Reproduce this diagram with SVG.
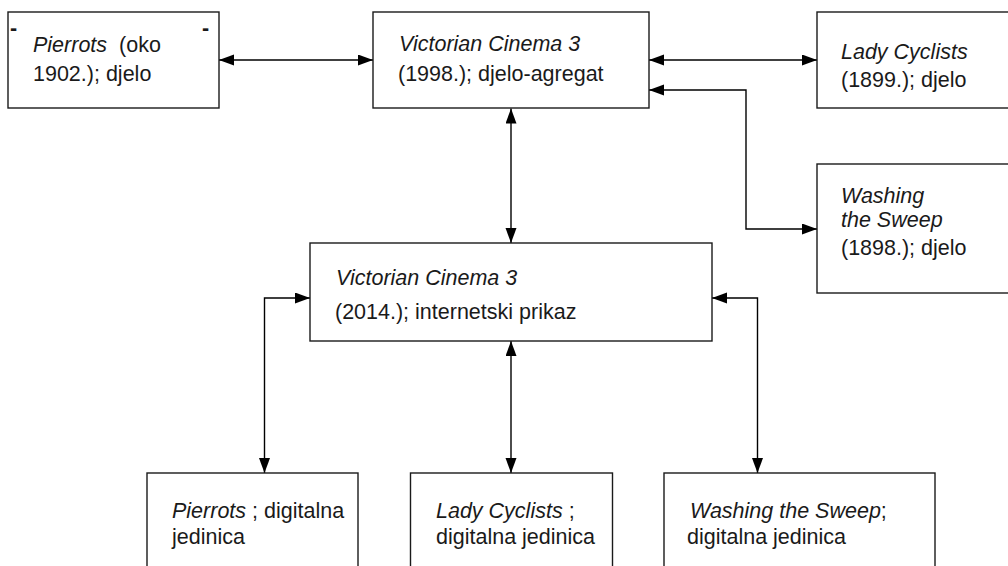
<svg xmlns="http://www.w3.org/2000/svg" width="1008" height="566" viewBox="0 0 1008 566">
<style>
.box{fill:#fff;stroke:#1a1a1a;stroke-width:1.4}
.t{font-family:"Liberation Sans",Arial,sans-serif;font-size:21.5px;fill:#1a1a1a}
.i{font-style:italic}
.c{fill:none;stroke:#000;stroke-width:1.4;marker-start:url(#ah);marker-end:url(#ah)}
</style>
<defs>
<marker id="ah" markerUnits="userSpaceOnUse" markerWidth="16" markerHeight="12" refX="15" refY="5.5" orient="auto-start-reverse">
<path d="M0,0 L15,5.5 L0,11 Z" fill="#000"/>
</marker>
</defs>
<rect width="1008" height="566" fill="#fff"/>
<g id="connectors">
<path class="c" d="M219,60 H373"/>
<path class="c" d="M649,60 H817"/>
<path class="c" d="M649,90 H746 V229 H817"/>
<path class="c" d="M511,108.5 V243"/>
<path class="c" d="M310,298 H264.5 V473"/>
<path class="c" d="M511,341 V473"/>
<path class="c" d="M712,298 H757.5 V473"/>
</g>
<g id="pierrots">
<rect class="box" x="8" y="12" width="211" height="96"/>
<text class="t" x="10" y="35" style="font-weight:bold">-</text>
<text class="t" x="202" y="35" style="font-weight:bold">-</text>
<text class="t" x="33" y="52"><tspan class="i">Pierrots</tspan>&#160; (oko</text>
<text class="t" x="33" y="81">1902.); djelo</text>
</g>
<g id="vc1998">
<rect class="box" x="373" y="12" width="276" height="96"/>
<text class="t i" x="399" y="51">Victorian Cinema 3</text>
<text class="t" x="398" y="81">(1998.); djelo-agregat</text>
</g>
<g id="ladycyclists">
<rect class="box" x="817" y="12" width="200" height="96"/>
<text class="t i" x="841" y="59">Lady Cyclists</text>
<text class="t" x="841" y="87">(1899.); djelo</text>
</g>
<g id="washing">
<rect class="box" x="817" y="164" width="200" height="129"/>
<text class="t i" x="841" y="203">Washing</text>
<text class="t i" x="841" y="227">the Sweep</text>
<text class="t" x="841" y="255">(1898.); djelo</text>
</g>
<g id="vc2014">
<rect class="box" x="310" y="243" width="402" height="98"/>
<text class="t i" x="336" y="285">Victorian Cinema 3</text>
<text class="t" x="335" y="319">(2014.); internetski prikaz</text>
</g>
<g id="pierrots-digital">
<rect class="box" x="147" y="473" width="211" height="110"/>
<text class="t" x="172" y="518"><tspan class="i">Pierrots</tspan> ; digitalna</text>
<text class="t" x="172" y="544">jedinica</text>
</g>
<g id="ladycyclists-digital">
<rect class="box" x="410.5" y="473" width="202" height="110"/>
<text class="t" x="436" y="518"><tspan class="i">Lady Cyclists</tspan> ;</text>
<text class="t" x="436" y="544">digitalna jedinica</text>
</g>
<g id="washing-digital">
<rect class="box" x="664" y="473" width="271" height="110"/>
<text class="t" x="690" y="518"><tspan class="i">Washing the Sweep</tspan>;</text>
<text class="t" x="687" y="544">digitalna jedinica</text>
</g>
</svg>
